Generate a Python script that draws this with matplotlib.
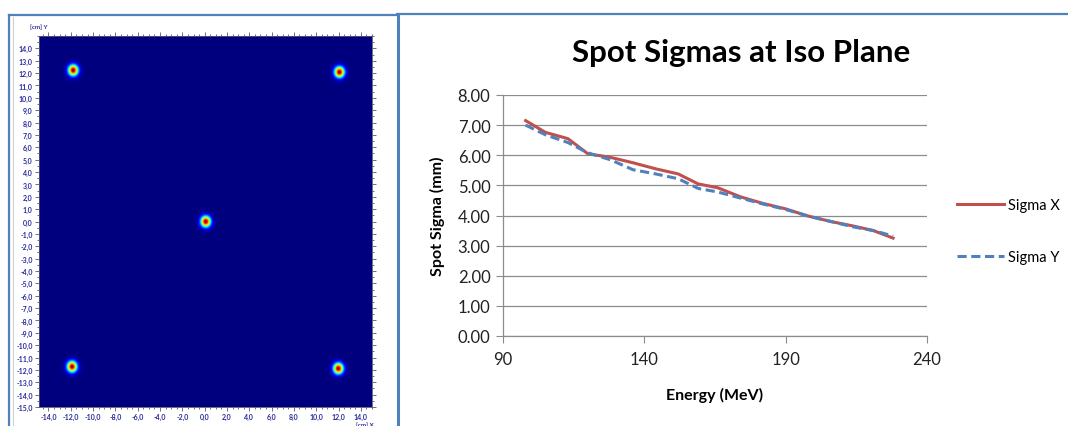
"""Spot map at iso plane (left) and spot sigmas vs energy (right)."""
import numpy as np
import matplotlib
matplotlib.use("Agg")
import matplotlib.pyplot as plt
from matplotlib.lines import Line2D
from matplotlib.ticker import MultipleLocator, FuncFormatter

# spot centres on the iso plane [cm]
spot_x = [-11.8, 12.1, 0.1, -11.9, 12.0]
spot_y = [12.25, 12.1, 0.0, -11.75, -11.9]
spot_sigma = 0.31

# spot sigmas vs energy
energy = [98, 105, 113, 120, 128, 136, 144, 152, 159, 166, 174, 182, 190, 198, 206, 214, 221, 228]
sigma_x = [7.15, 6.76, 6.55, 6.05, 5.93, 5.75, 5.55, 5.38, 5.05, 4.92, 4.62, 4.40, 4.22, 3.98,
           3.80, 3.65, 3.50, 3.25]
sigma_y = [7.00, 6.68, 6.42, 6.08, 5.85, 5.52, 5.38, 5.22, 4.90, 4.78, 4.58, 4.38, 4.20, 3.98,
           3.80, 3.62, 3.50, 3.32]

W, H = 1068, 427
fig = plt.figure(figsize=(W / 100, H / 100), dpi=100)
plt.rcParams["font.family"] = ["Lato", "DejaVu Sans"]


def box(x0, y0, x1, y1):
    return [x0 / W, 1 - y1 / H, (x1 - x0) / W, (y1 - y0) / H]


# ---- left: spot map ----
ax1 = fig.add_axes(box(39, 37, 372, 408))
gx = np.linspace(-15, 15, 700)
gy = np.linspace(-15, 15, 700)
XX, YY = np.meshgrid(gx, gy)
field = np.zeros_like(XX)
for sx, sy in zip(spot_x, spot_y):
    field += np.exp(-((XX - sx) ** 2 + (YY - sy) ** 2) / (2 * spot_sigma ** 2))
ax1.imshow(field, cmap="jet", vmin=0, vmax=1, origin="lower",
           extent=[-15, 15, -15, 15], aspect="auto", interpolation="bilinear")
ax1.set_xlim(-14.85, 15)
ax1.set_ylim(-15, 15)
lab_col = "#2a2a9a"
ax1.xaxis.set_minor_locator(MultipleLocator(0.5))
ax1.yaxis.set_minor_locator(MultipleLocator(0.5))
fmt = FuncFormatter(lambda v, p: f"{v:.1f}".replace(".", ",").replace("-0,0", "0,0"))
ax1.xaxis.set_major_formatter(fmt)
ax1.yaxis.set_major_formatter(fmt)
ax1.set_xticks(np.arange(-14, 15, 2))
ax1.set_yticks(np.arange(-15, 15, 1))
ax1.tick_params(which="both", direction="out", colors="#555577", labelcolor=lab_col,
                labelsize=5, top=True, right=True, width=0.6)
ax1.tick_params(which="major", length=3, pad=1.5)
ax1.tick_params(which="minor", length=1.5)
for lbl in ax1.get_xticklabels() + ax1.get_yticklabels():
    lbl.set_fontweight("bold")
for s in ax1.spines.values():
    s.set_color("#555577")
    s.set_linewidth(0.6)
fig.text(30 / W, 1 - 29 / H, "[cm] Y", fontsize=4.5, color=lab_col, fontweight="bold")
fig.text(356 / W, 1 - 427 / H, "[cm] X", fontsize=4.5, color=lab_col, fontweight="bold")

# ---- right: sigma vs energy ----
ax2 = fig.add_axes(box(503, 96, 927, 337))
ax2.plot(energy, sigma_x, color="#C0504D", lw=2.2, label="Sigma X")
ax2.plot(energy, sigma_y, color="#4F81BD", lw=2.2, ls=(0, (3, 1.5)), label="Sigma Y")
ax2.set_xlim(90, 240)
ax2.set_ylim(0, 8)
ax2.set_xticks([90, 140, 190, 240])
ax2.set_yticks(np.arange(0, 8.01, 1))
ax2.yaxis.set_major_formatter(FuncFormatter(lambda v, p: f"{v:.2f}"))
ax2.grid(axis="y", color="#8c8c8c", lw=0.9)
ax2.set_axisbelow(True)
for side in ("top", "right"):
    ax2.spines[side].set_visible(False)
for side in ("left", "bottom"):
    ax2.spines[side].set_color("#8c8c8c")
    ax2.spines[side].set_linewidth(0.9)
ax2.tick_params(direction="out", length=5, color="#8c8c8c", labelsize=12,
                labelcolor="#222222", pad=4)
ax2.tick_params(axis="x", pad=6)
ax2.set_xlabel("Energy (MeV)", fontsize=11.5, fontweight="bold", labelpad=14)
ax2.set_ylabel("Spot Sigma (mm)", fontsize=11.5, fontweight="bold", labelpad=9)
fig.text(741 / W, 1 - 53 / H, "Spot Sigmas at Iso Plane", fontsize=22.5, fontweight="bold",
         ha="center", va="center")
fig.legend(loc="center left", bbox_to_anchor=(944 / W, 1 - 232 / H), frameon=False,
           fontsize=10.5, handlelength=3.2, handletextpad=0.3, labelspacing=2.6)

# ---- slide frames ----
blue = "#4F81BD"
fig.add_artist(Line2D([9 / W, 9 / W], [0, 1 - 16 / H], color=blue, lw=1.6))
fig.add_artist(Line2D([9 / W, 398 / W], [1 - 16 / H, 1 - 16 / H], color=blue, lw=1.6))
fig.add_artist(Line2D([397.5 / W, 397.5 / W], [0, 1 - 15 / H], color=blue, lw=2.2))
fig.add_artist(Line2D([397 / W, 1], [1 - 15 / H, 1 - 15 / H], color=blue, lw=1.6))
fig.add_artist(Line2D([12.5 / W, 12.5 / W], [0, 1 - 18 / H], color="#cfcfcf", lw=0.8))

fig.savefig("out.png", dpi=100)
